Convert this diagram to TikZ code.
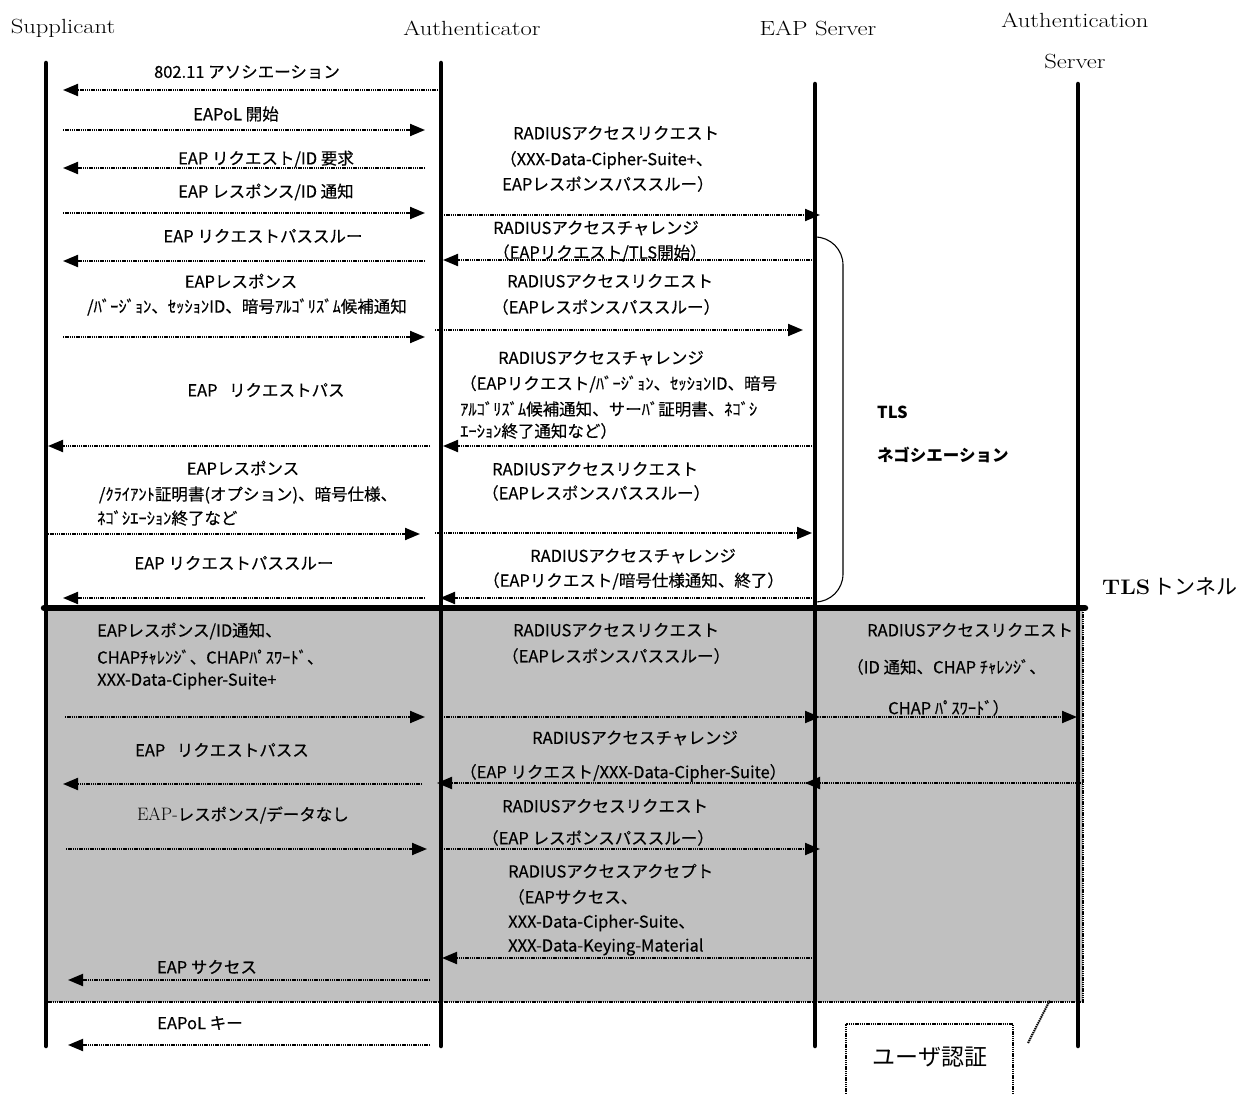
\documentclass[tikz,border=0pt]{standalone}
\usepackage{fontspec}
\newfontfamily\jp[FakeBold=0.3]{Noto Sans CJK JP}
\newfontfamily\jplight{Noto Sans CJK JP}
\usetikzlibrary{arrows.meta}
\definecolor{tunnelgray}{HTML}{C0C0C0}

% one message: named end points, then the dotted arrow between them
\newcommand\seqmsg[4]{%
  \coordinate (#1-from) at (#2,#4);
  \coordinate (#1-to) at (#3,#4);
  \draw[msg] (#1-from) -- (#1-to);}

\begin{document}
\begin{tikzpicture}[x=1pt,y=-1pt,
  lifeline/.style={line width=4.5pt, line cap=round},
  dots/.style={line width=2pt, dash pattern=on 1.4pt off 0.8pt},
  msg/.style={dots, -{Triangle[length=15pt,width=12pt]}},
  lbl/.style={font=\jp\fontsize{16.5}{19}\selectfont, inner sep=0pt},
  lblw/.style={lbl, anchor=west},
  hdr/.style={font=\fontsize{20.5}{24}\selectfont, inner sep=0pt},
  bold/.style={font=\jplight\bfseries\fontsize{16.5}{19}\selectfont, inner sep=0pt, anchor=west}]

\useasboundingbox (0,0) rectangle (1251,1094);

% ---- shaded TLS tunnel area ----
\coordinate (tun-nw) at (46,608);
\coordinate (tun-ne) at (1083,608);
\coordinate (tun-se) at (1083,1002);
\coordinate (tun-sw) at (46,1002);
\fill[tunnelgray] (tun-nw) rectangle (tun-se);
\draw[dots] (tun-sw) -- (tun-se) -- (tun-ne);

% ---- participants ----
\node[hdr] (h-sup) at (63,28) {\scalebox{1.2}[1]{Supplicant}};
\node[hdr] (h-auth) at (472,28) {\scalebox{1.2}[1]{Authenticator}};
\node[hdr] (h-eap) at (818,28) {\scalebox{1.2}[1]{EAP Server}};
\node[hdr] (h-as1) at (1075,20) {\scalebox{1.2}[1]{Authentication}};
\node[hdr] (h-as2) at (1075,62) {\scalebox{1.2}[1]{Server}};

\coordinate (sup-top) at (46,63);   \coordinate (sup-bot) at (46,1046);
\coordinate (auth-top) at (441,63); \coordinate (auth-bot) at (441,1046);
\coordinate (eap-top) at (815,84);  \coordinate (eap-bot) at (815,1046);
\coordinate (as-top) at (1078,84);  \coordinate (as-bot) at (1078,1046);
\draw[lifeline] (sup-top) -- (sup-bot);
\draw[lifeline] (auth-top) -- (auth-bot);
\draw[lifeline] (eap-top) -- (eap-bot);
\draw[lifeline] (as-top) -- (as-bot);

% ---- tunnel top line ----
\coordinate (tls-l) at (44,608);
\coordinate (tls-r) at (1085,608);
\draw[line width=6.5pt, line cap=round] (tls-l) -- (tls-r);
\node[font=\fontsize{21}{24}\selectfont, inner sep=0pt, anchor=west] (tls-tunnel) at (1102,587)
  {\scalebox{1.1}[1]{\bfseries TLS}\,{\jplight\fontsize{21}{24}\selectfont トンネル}};

% ---- TLS negotiation bracket ----
\coordinate (br-a) at (816,237);
\coordinate (br-b) at (843,237);
\coordinate (br-c) at (843,602);
\coordinate (br-d) at (816,602);
\draw[line width=1.1pt, rounded corners=28pt] (br-a) -- (br-b) -- (br-c) -- (br-d);
\node[bold] (neg1) at (877,412) {TLS};
\node[bold] (neg2) at (877,455) {ネゴシエーション};

% ---- Supplicant <-> Authenticator ----
\node[lbl] (t1) at (247,72) {802.11 アソシエーション};
\seqmsg{m1}{438}{63}{90}
\node[lbl] (t2) at (236,114) {EAPoL 開始};
\seqmsg{m2}{63}{425}{130}
\node[lbl] (t3) at (266,159) {EAP リクエスト/ID 要求};
\seqmsg{m3}{425}{63}{168}
\node[lbl] (t4) at (266,192) {EAP レスポンス/ID 通知};
\seqmsg{m4}{63}{425}{213}
\node[lbl] (t5) at (263,236) {EAP リクエストパススルー};
\seqmsg{m5}{425}{63}{261}
\node[lbl] (t6a) at (241,281) {EAPレスポンス};
\node[lbl] (t6b) at (247,307) {/ﾊﾞｰｼﾞｮﾝ、ｾｯｼｮﾝID、暗号ｱﾙｺﾞﾘｽﾞﾑ候補通知};
\seqmsg{m6}{63}{425}{337}
\node[lbl] (t7) at (266,390) {EAP\hspace{0.7em}リクエストパス};
\seqmsg{m7}{430}{48}{446}
\node[lbl] (t8a) at (243,468) {EAPレスポンス};
\node[lbl] (t8b) at (248,495) {/ｸﾗｲｱﾝﾄ証明書(オプション)、暗号仕様、};
\node[lblw] (t8c) at (97,518) {ﾈｺﾞｼｴｰｼｮﾝ終了など};
\seqmsg{m8}{48}{420}{534}
\node[lbl] (t9) at (234,563) {EAP リクエストパススルー};
\seqmsg{m9}{425}{63}{598}

% ---- Authenticator <-> EAP Server ----
\node[lblw] (ra1) at (513,133) {RADIUSアクセスリクエスト};
\node[lblw] (ra2) at (500,160) {（XXX-Data-Cipher-Suite+、};
\node[lblw] (ra3) at (502,184) {EAPレスポンスパススルー）};
\seqmsg{ra}{444}{820}{215}
\node[lblw] (rb1) at (493,228) {RADIUSアクセスチャレンジ};
\node[lblw] (rb2) at (493,253) {（EAPリクエスト/TLS開始）};
\seqmsg{rb}{812}{443}{260}
\node[lblw] (rc1) at (507,281) {RADIUSアクセスリクエスト};
\node[lblw] (rc2) at (492,307) {（EAPレスポンスパススルー）};
\seqmsg{rc}{435}{803}{330}
\node[lblw] (rd1) at (498,358) {RADIUSアクセスチャレンジ};
\node[lblw] (rd2) at (460,384) {（EAPリクエスト/ﾊﾞｰｼﾞｮﾝ、ｾｯｼｮﾝID、暗号};
\node[lblw] (rd3) at (460,409) {ｱﾙｺﾞﾘｽﾞﾑ候補通知、サーﾊﾞ証明書、ﾈｺﾞｼ};
\node[lblw] (rd4) at (460,431) {ｴｰｼｮﾝ終了通知など）};
\seqmsg{rd}{812}{443}{446}
\node[lblw] (re1) at (492,469) {RADIUSアクセスリクエスト};
\node[lblw] (re2) at (482,493) {（EAPレスポンスパススルー）};
\seqmsg{re}{435}{812}{533}
\node[lblw] (rf1) at (530,556) {RADIUSアクセスチャレンジ};
\node[lblw] (rf2) at (483,581) {（EAPリクエスト/暗号仕様通知、終了）};
\seqmsg{rf}{812}{440}{598}

% ---- inside the tunnel: Supplicant <-> Authenticator ----
\node[lblw] (g1a) at (97,631) {EAPレスポンス/ID通知、};
\node[lblw] (g1b) at (97,657) {CHAPﾁｬﾚﾝｼﾞ、CHAPﾊﾟｽﾜｰﾄﾞ、};
\node[lblw] (g1c) at (97,681) {XXX-Data-Cipher-Suite+};
\seqmsg{g1}{65}{425}{717}
\node[lbl] (g2) at (222,750) {EAP\hspace{0.7em}リクエストパスス};
\seqmsg{g2}{422}{63}{784}
\node[lbl] (g3) at (243,815) {{\rmfamily\fontsize{18}{20}\selectfont EAP-}レスポンス/データなし};
\seqmsg{g3}{66}{427}{849}
\node[lbl] (g4) at (207,967) {EAP サクセス};
\seqmsg{g4}{430}{68}{980}

% ---- inside the tunnel: Authenticator <-> EAP Server ----
\node[lblw] (gr1a) at (513,630) {RADIUSアクセスリクエスト};
\node[lblw] (gr1b) at (502,656) {（EAPレスポンスパススルー）};
\seqmsg{gr1}{444}{820}{717}
\node[lblw] (gr2a) at (532,738) {RADIUSアクセスチャレンジ};
\node[lblw] (gr2b) at (460,773) {（EAP リクエスト/XXX-Data-Cipher-Suite）};
\seqmsg{gr2}{812}{437}{783}
\node[lblw] (gr3a) at (502,806) {RADIUSアクセスリクエスト};
\node[lblw] (gr3b) at (482,838) {（EAP レスポンスパススルー）};
\seqmsg{gr3}{444}{820}{849}
\node[lblw] (gr4a) at (508,871) {RADIUSアクセスアクセプト};
\node[lblw] (gr4b) at (508,897) {（EAPサクセス、};
\node[lblw] (gr4c) at (508,923) {XXX-Data-Cipher-Suite、};
\node[lblw] (gr4d) at (508,947) {XXX-Data-Keying-Material};
\seqmsg{gr4}{812}{442}{958}

% ---- inside the tunnel: EAP Server <-> Authentication Server ----
\node[lblw] (as1a) at (867,630) {RADIUSアクセスリクエスト};
\node[lblw] (as1b) at (847,667) {（ID 通知、CHAP ﾁｬﾚﾝｼﾞ、};
\node[lblw] (as1c) at (888,708) {CHAP ﾊﾟｽﾜｰﾄﾞ）};
\seqmsg{as1}{820}{1077}{717}
\seqmsg{as2}{1083}{805}{783}

% ---- after the tunnel ----
\node[lbl] (k1) at (200,1023) {EAPoL キー};
\seqmsg{k1}{430}{68}{1045}

% ---- user authentication callout ----
\coordinate (ua-sw) at (846,1094);
\coordinate (ua-nw) at (846,1024);
\coordinate (ua-ne) at (1013,1024);
\coordinate (ua-se) at (1013,1094);
\draw[dots] (ua-sw) -- (ua-nw) -- (ua-ne) -- (ua-se);
\node[font=\jplight\fontsize{23}{26}\selectfont, inner sep=0pt] (ua) at (930,1057) {ユーザ認証};
\coordinate (ua-tail) at (1028,1043);
\coordinate (ua-tip) at (1050,1000);
\draw[dots] (ua-tail) -- (ua-tip);

\end{tikzpicture}
\end{document}
